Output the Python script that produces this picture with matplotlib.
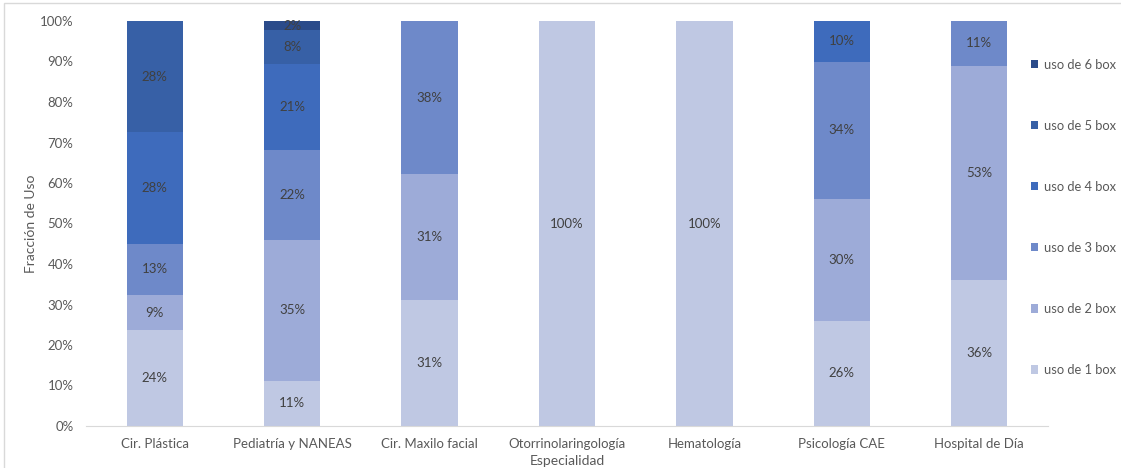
import matplotlib.pyplot as plt
import numpy as np
from matplotlib.patches import Rectangle

plt.rcParams['font.family'] = ['Lato', 'DejaVu Sans']

especialidades = ["Cir. Plástica", "Pediatría y NANEAS", "Cir. Maxilo facial",
                  "Otorrinolaringología", "Hematología", "Psicología CAE",
                  "Hospital de Día"]
series = ["uso de 1 box", "uso de 2 box", "uso de 3 box",
          "uso de 4 box", "uso de 5 box", "uso de 6 box"]

# porcentaje de uso por especialidad
uso_1 = [23.6, 11.2, 31.2, 100, 100, 26, 36]
uso_2 = [8.8, 34.8, 31.0, 0, 0, 30, 53]
uso_3 = [12.6, 22.2, 37.8, 0, 0, 34, 11]
uso_4 = [27.5, 21.3, 0, 0, 0, 10, 0]
uso_5 = [27.5, 8.2, 0, 0, 0, 0, 0]
uso_6 = [0, 2.3, 0, 0, 0, 0, 0]

colores = ["#BFC8E3", "#9DABD8", "#6E89C9", "#3E6BBC", "#3760A6", "#2B4B8A"]

fig = plt.figure(figsize=(11.21, 4.68), dpi=100)
ax = fig.add_axes([86 / 1121, 42 / 468, 962 / 1121, 405 / 468])

x = np.arange(len(especialidades))
base = np.zeros(len(especialidades))
handles = []
for nombre, vals, col in zip(series, [uso_1, uso_2, uso_3, uso_4, uso_5, uso_6], colores):
    vals = np.array(vals, dtype=float)
    b = ax.bar(x, vals / 100, 0.41, bottom=base / 100, color=col, label=nombre)
    handles.append(b)
    for xi, v, bo in zip(x, vals, base):
        if v > 0:
            ax.text(xi, (bo + v / 2) / 100, f"{v:.0f}%", ha="center", va="center",
                    fontsize=9.5, color="#404040")
    base += vals

ax.set_xlim(-0.5, 6.5)
ax.set_ylim(0, 1)
ax.set_yticks(np.arange(0, 1.01, 0.1))
ax.set_yticklabels([f"{int(round(t * 100))}%" for t in np.arange(0, 1.01, 0.1)])
ax.set_xticks(x)
ax.set_xticklabels(especialidades)
ax.tick_params(axis="both", length=0, labelsize=9.5, colors="#595959")
ax.tick_params(axis="x", pad=9)
ax.tick_params(axis="y", pad=9)
for s in ["top", "right", "left"]:
    ax.spines[s].set_visible(False)
ax.spines["bottom"].set_color("#D9D9D9")

ax.set_ylabel("Fracción de Uso", fontsize=10, color="#595959", labelpad=2)
ax.set_xlabel("Especialidad", fontsize=10, color="#595959", labelpad=3)

leg = fig.legend(handles[::-1], series[::-1], loc="upper left",
                 bbox_to_anchor=(1019 / 1121, 1 - 47 / 468), frameon=False,
                 fontsize=9.3, labelcolor="#595959", handlelength=0.6,
                 handleheight=0.6, handletextpad=0.45, labelspacing=3.8)

# marco exterior del gráfico
fig.patches.append(Rectangle((4 / 1121, -0.1), 1.2, 1 - 3 / 468 + 0.1,
                             transform=fig.transFigure, fill=False,
                             edgecolor="#D9D9D9", linewidth=1))

fig.savefig("out.png", dpi=100)
